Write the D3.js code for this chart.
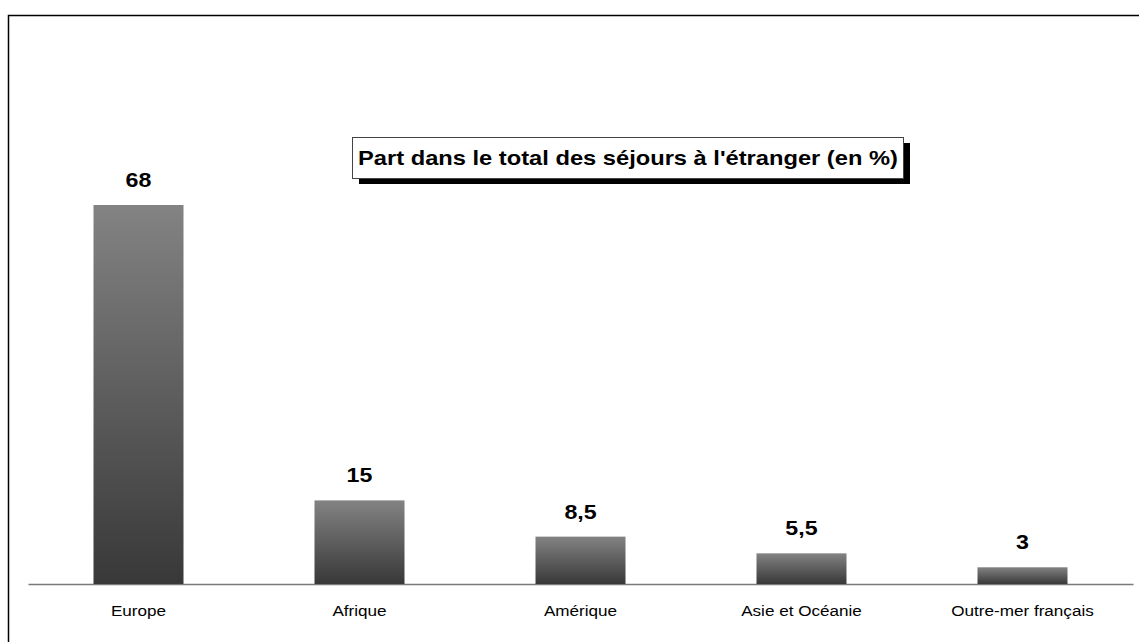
<!DOCTYPE html>
<html>
<head>
<meta charset="utf-8">
<script src="https://cdn.jsdelivr.net/npm/d3@7"></script>
<style>
  body { margin: 0; background: #fff; }
  svg { display: block; font-family: "Liberation Sans", Arial, sans-serif; }
</style>
</head>
<body>
<svg id="chart" width="1139" height="642"></svg>
<script>
// Share of stays abroad by destination.
var categories = ["Europe", "Afrique", "Amérique", "Asie et Océanie", "Outre-mer français"];
var values = [68, 15, 8.5, 5.5, 3];
var valueLabels = ["68", "15", "8,5", "5,5", "3"];
var title = "Part dans le total des séjours à l'étranger (en %)";

var svg = d3.select("#chart");

// The source picture is a slightly stretched export: text is wider than it is tall.
function stretched(sel, sx) {
  return sel.attr("transform", function () {
    var t = d3.select(this);
    var px = +t.attr("x"), py = +t.attr("y");
    return "translate(" + px + "," + py + ") scale(" + sx + ",1) translate(" + (-px) + "," + (-py) + ")";
  });
}

// Outer frame runs off the right and bottom edges, as in the source.
svg.append("rect")
  .attr("x", 8.5).attr("y", 15.5)
  .attr("width", 1200).attr("height", 700)
  .attr("fill", "none").attr("stroke", "#000").attr("stroke-width", 1.5);

var x = d3.scaleBand().domain(categories).range([28, 1133]).padding(0);
var y = d3.scaleLinear().domain([0, 68]).range([584, 205]);
var barW = 90;

var defs = svg.append("defs");
var grad = defs.append("linearGradient")
  .attr("id", "barGrad").attr("x1", 0).attr("y1", 0).attr("x2", 0).attr("y2", 1);
grad.append("stop").attr("offset", "0%").attr("stop-color", "#838383");
grad.append("stop").attr("offset", "100%").attr("stop-color", "#383838");

// Category axis, line only.
var axis = svg.append("g")
  .attr("transform", "translate(0," + y(0) + ")")
  .call(d3.axisBottom(x).tickSize(0).tickPadding(21));
axis.select(".domain").attr("stroke", "#7a7a7a").attr("stroke-width", 1.5);
axis.selectAll("text")
  .attr("font-family", "Liberation Sans, Arial, sans-serif")
  .attr("font-size", 15).attr("fill", "#000")
  .attr("transform", "scale(1.14,1)");

var bars = svg.append("g").selectAll("g")
  .data(categories).join("g");

bars.append("rect")
  .attr("x", function (d) { return x(d) + (x.bandwidth() - barW) / 2; })
  .attr("y", function (d, i) { return y(values[i]); })
  .attr("width", barW)
  .attr("height", function (d, i) { return y(0) - y(values[i]); })
  .attr("fill", "url(#barGrad)");

bars.append("text")
  .attr("x", function (d) { return x(d) + x.bandwidth() / 2; })
  .attr("y", function (d, i) { return y(values[i]) - 18; })
  .attr("text-anchor", "middle")
  .attr("font-size", 20).attr("font-weight", "bold")
  .text(function (d, i) { return valueLabels[i]; })
  .call(stretched, 1.16);

// Title box with a black drop shadow.
var tb = svg.append("g");
tb.append("rect")
  .attr("x", 359).attr("y", 143).attr("width", 551).attr("height", 41)
  .attr("fill", "#000");
tb.append("rect")
  .attr("x", 352.5).attr("y", 137.5).attr("width", 551).attr("height", 41)
  .attr("fill", "#fff").attr("stroke", "#444").attr("stroke-width", 1);
tb.append("text")
  .attr("x", 628).attr("y", 165)
  .attr("text-anchor", "middle")
  .attr("font-size", 20).attr("font-weight", "bold")
  .text(title)
  .call(stretched, 1.185);
</script>
</body>
</html>
